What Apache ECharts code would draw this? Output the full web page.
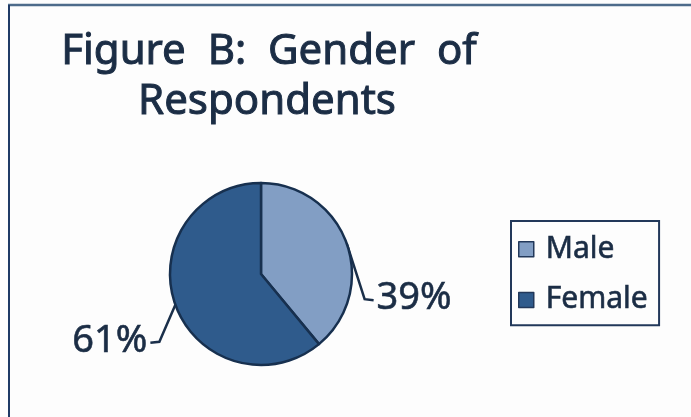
<!DOCTYPE html>
<html>
<head>
<meta charset="utf-8">
<script src="https://cdn.jsdelivr.net/npm/echarts@6/dist/echarts.min.js"></script>
<style>
  html, body { margin: 0; padding: 0; background: #fdfdfd; }
  #chart { width: 691px; height: 417px; }
</style>
</head>
<body>
<div id="chart"></div>
<script>
// Respondents by gender, in percent
const categories = ['Male', 'Female'];
const shares = [39, 61];
const titleLines = ['Figure B: Gender of', 'Respondents'];

const sliceColors = ['#829ec4', '#2f5b8c'];
const ink = '#1b2d45';
const font = '"Noto Sans", "DejaVu Sans", sans-serif';

// Heavier strokes for the headline-style text
const heavy = { textBorderColor: ink, textBorderWidth: 1 };

const chart = echarts.init(document.getElementById('chart'));

// Label offsets from the slice edge: [dx, dy, align]
const labelOffsets = [
  [30, 55, 'left'],
  [-28, 36, 'right']
];

// Wide word spacing in the headline
const spaced = s => s.split(' ').join('  ');

chart.setOption({
  backgroundColor: '#fdfdfd',
  animation: false,
  title: [
    {
      text: spaced(titleLines[0]),
      left: 264, top: 26, textAlign: 'center',
      textStyle: Object.assign({ fontFamily: font, fontSize: 42, fontWeight: 'normal', color: ink }, heavy)
    },
    {
      text: spaced(titleLines[1]),
      left: 262, top: 76, textAlign: 'center',
      textStyle: Object.assign({ fontFamily: font, fontSize: 42, fontWeight: 'normal', color: ink }, heavy)
    }
  ],
  legend: {
    orient: 'vertical',
    left: 511, top: 221,
    padding: [13, 11, 10, 7],
    itemGap: 20,
    itemWidth: 15, itemHeight: 15,
    icon: 'rect',
    borderColor: '#22385a',
    borderWidth: 2,
    itemStyle: { borderColor: '#22385a', borderWidth: 1.5 },
    textStyle: Object.assign({ fontFamily: font, fontSize: 30, color: ink, padding: [0, 0, 0, 7] },
      { textBorderColor: ink, textBorderWidth: 0.6 }),
    data: categories
  },
  graphic: [
    { type: 'line', shape: { x1: 8, y1: 5, x2: 691, y2: 5 }, style: { stroke: '#4d6b8b', lineWidth: 2.5 } },
    { type: 'line', shape: { x1: 9, y1: 5, x2: 9, y2: 417 }, style: { stroke: '#1f3a66', lineWidth: 2 } }
  ],
  series: [{
    type: 'pie',
    center: [261, 274],
    radius: 91,
    startAngle: 90,
    clockwise: true,
    silent: true,
    itemStyle: { borderColor: '#17304f', borderWidth: 2.5 },
    label: Object.assign({
      show: true,
      position: 'outside',
      formatter: '{d}%',
      fontFamily: font,
      fontSize: 38,
      color: ink
    }, { textBorderColor: ink, textBorderWidth: 0.6 }),
    labelLine: {
      show: true,
      length: 10, length2: 10,
      lineStyle: { color: '#1a2f4a', width: 2.5 }
    },
    labelLayout: function (params) {
      const p0 = params.labelLinePoints[0];
      const off = labelOffsets[params.dataIndex];
      const lx = p0[0] + off[0];
      const ly = p0[1] + off[1];
      const dir = off[2] === 'left' ? -1 : 1;
      return {
        x: lx, y: ly,
        align: off[2], verticalAlign: 'middle',
        labelLinePoints: [
          p0,
          [lx + dir * 12, ly + 1],
          [lx + dir * 3, ly + 2]
        ]
      };
    },
    data: categories.map((name, i) => ({
      name: name,
      value: shares[i],
      itemStyle: { color: sliceColors[i] }
    }))
  }]
});
</script>
</body>
</html>
